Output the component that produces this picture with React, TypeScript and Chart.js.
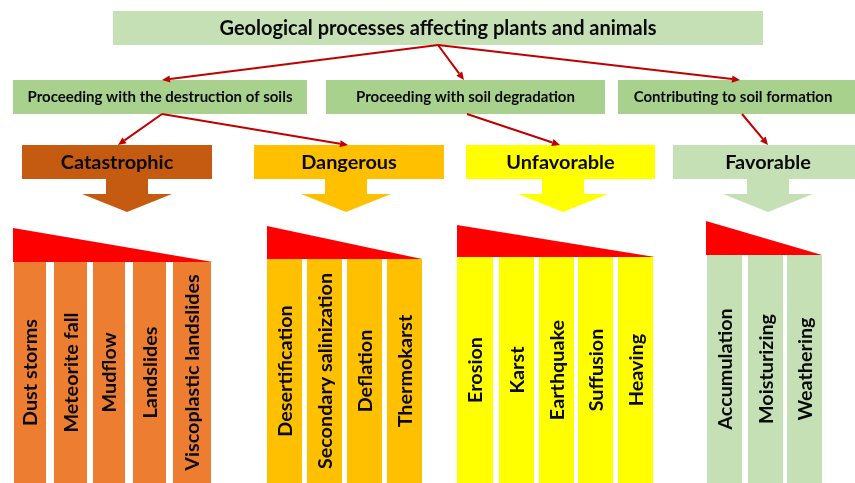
import React, { useEffect, useRef } from 'react';
import { Chart, registerables } from 'chart.js';

Chart.register(...registerables);

// ---- content ----
const TITLE = 'Geological processes affecting plants and animals';
const BRANCHES = [
  'Proceeding with the destruction of soils',
  'Proceeding with soil degradation',
  'Contributing to soil formation',
];
const CATEGORIES = ['Catastrophic', 'Dangerous', 'Unfavorable', 'Favorable'];
const CATASTROPHIC = ['Dust storms', 'Meteorite fall', 'Mudflow', 'Landslides', 'Viscoplastic landslides'];
const DANGEROUS = ['Desertification', 'Secondary salinization', 'Deflation', 'Thermokarst'];
const UNFAVORABLE = ['Erosion', 'Karst', 'Earthquake', 'Suffusion', 'Heaving'];
const FAVORABLE = ['Accumulation', 'Moisturizing', 'Weathering'];
const ITEMS = [CATASTROPHIC, DANGEROUS, UNFAVORABLE, FAVORABLE];
const BRANCH_OF_CATEGORY = [0, 0, 1, 2];

// ---- layout (scale units) ----
const W = 855;
const H = 483;
const TITLE_BOX = [113, 763, 11, 45];
const BRANCH_X = [[13, 307], [326, 605], [618, 855]];
const BRANCH_Y = [80, 114];
const TITLE_ARROW_FROM = [438, 45];
const TITLE_ARROW_TO_X = [162, 464, 740];
const BRANCH_ARROW_FROM_X = [162, 467, 742];
const CAT_X = [[22, 212], [254, 444], [466, 655], [673, 855]];
const CAT_Y = [145, 179];
const CAT_ARROW_TO_X = [118, 348, 560, 768];
const BLOCK_ARROW_X = [127, 346, 563, 768];
const BLOCK_SHAFT = [42, 179, 194];
const BLOCK_HEAD = [90, 194, 212];
const TRIANGLES = [[13, 213, 228, 262], [267, 422, 226, 259], [457, 655, 225, 257], [706, 822, 221, 255]];
const COL_LEFT = [[14, 54, 93, 133, 173], [267, 307, 347, 387], [457, 499, 539, 578, 618], [707, 748, 787]];
const COL_RIGHT = [[46, 87, 125, 166, 211], [302, 342, 382, 422], [493, 534, 574, 613, 653], [742, 783, 822]];

// ---- styles ----
const FONT = 'Lato, "Noto Sans", sans-serif';
const TEXT_COLOR = '#0a0a0a';
const TITLE_SIZE = 20;
const BRANCH_SIZE = 15;
const CAT_SIZE = 19.9;
const ITEM_SIZE = 19.8;
const TITLE_FILL = '#c5e0b4';
const BRANCH_FILL = '#a9d18e';
const CAT_FILL = ['#c55a11', '#ffc000', '#ffff00', '#c5e0b4'];
const COL_FILL = ['#ed7d31', '#ffc000', '#ffff00', '#c5e0b4'];
const RED_LINE = '#c00000';
const TRI_FILL = '#ff0000';

const diagramPlugin = {
  id: 'diagram',
  afterDraw(chart: any) {
    const ctx: CanvasRenderingContext2D = chart.ctx;
    const xs = chart.scales.x;
    const ys = chart.scales.y;
    const X = (v: number) => xs.getPixelForValue(v);
    const Y = (v: number) => ys.getPixelForValue(v);

    const rect = (x0: number, x1: number, y0: number, y1: number, fill: string) => {
      ctx.fillStyle = fill;
      ctx.fillRect(X(x0), Y(y0), X(x1) - X(x0), Y(y1) - Y(y0));
    };
    const text = (s: string, x: number, y: number, size: number) => {
      ctx.fillStyle = TEXT_COLOR;
      ctx.font = `bold ${size}px ${FONT}`;
      ctx.textAlign = 'center';
      ctx.textBaseline = 'middle';
      ctx.fillText(s, X(x), Y(y));
    };
    const arrow = (x0: number, y0: number, x1: number, y1: number) => {
      const px0 = X(x0), py0 = Y(y0), px1 = X(x1), py1 = Y(y1);
      const ang = Math.atan2(py1 - py0, px1 - px0);
      const len = 8, hw = 3.6;
      const bx = px1 - Math.cos(ang) * len;
      const by = py1 - Math.sin(ang) * len;
      ctx.strokeStyle = RED_LINE;
      ctx.lineWidth = 2;
      ctx.beginPath();
      ctx.moveTo(px0, py0);
      ctx.lineTo(bx, by);
      ctx.stroke();
      ctx.fillStyle = RED_LINE;
      ctx.beginPath();
      ctx.moveTo(px1, py1);
      ctx.lineTo(bx + Math.sin(ang) * hw, by - Math.cos(ang) * hw);
      ctx.lineTo(bx - Math.sin(ang) * hw, by + Math.cos(ang) * hw);
      ctx.closePath();
      ctx.fill();
    };

    ctx.save();
    // title
    rect(TITLE_BOX[0], TITLE_BOX[1], TITLE_BOX[2], TITLE_BOX[3], TITLE_FILL);
    text(TITLE, (TITLE_BOX[0] + TITLE_BOX[1]) / 2, (TITLE_BOX[2] + TITLE_BOX[3]) / 2 + 1, TITLE_SIZE);

    // branches
    BRANCHES.forEach((b, i) => {
      const [x0, x1] = BRANCH_X[i];
      rect(x0, x1, BRANCH_Y[0], BRANCH_Y[1], BRANCH_FILL);
      const cx = i === 2 ? (x0 + 848) / 2 : (x0 + x1) / 2;
      text(b, cx, (BRANCH_Y[0] + BRANCH_Y[1]) / 2, BRANCH_SIZE);
      arrow(TITLE_ARROW_FROM[0], TITLE_ARROW_FROM[1], TITLE_ARROW_TO_X[i], BRANCH_Y[0]);
    });

    // categories
    CATEGORIES.forEach((c, i) => {
      const [x0, x1] = CAT_X[i];
      rect(x0, x1, CAT_Y[0], CAT_Y[1], CAT_FILL[i]);
      const cx = i === 3 ? (x0 + 863) / 2 : (x0 + x1) / 2;
      text(c, cx, (CAT_Y[0] + CAT_Y[1]) / 2 + 1, CAT_SIZE);
      arrow(BRANCH_ARROW_FROM_X[BRANCH_OF_CATEGORY[i]], BRANCH_Y[1], CAT_ARROW_TO_X[i], CAT_Y[0]);

      // block arrow
      const ax = BLOCK_ARROW_X[i];
      ctx.fillStyle = CAT_FILL[i];
      ctx.beginPath();
      ctx.moveTo(X(ax - BLOCK_SHAFT[0] / 2), Y(BLOCK_SHAFT[1]));
      ctx.lineTo(X(ax + BLOCK_SHAFT[0] / 2), Y(BLOCK_SHAFT[1]));
      ctx.lineTo(X(ax + BLOCK_SHAFT[0] / 2), Y(BLOCK_SHAFT[2]));
      ctx.lineTo(X(ax + BLOCK_HEAD[0] / 2), Y(BLOCK_HEAD[1]));
      ctx.lineTo(X(ax), Y(BLOCK_HEAD[2]));
      ctx.lineTo(X(ax - BLOCK_HEAD[0] / 2), Y(BLOCK_HEAD[1]));
      ctx.lineTo(X(ax - BLOCK_SHAFT[0] / 2), Y(BLOCK_SHAFT[2]));
      ctx.closePath();
      ctx.fill();

      // severity wedge
      const [tx0, tx1, ty0, ty1] = TRIANGLES[i];
      ctx.fillStyle = TRI_FILL;
      ctx.beginPath();
      ctx.moveTo(X(tx0), Y(ty0));
      ctx.lineTo(X(tx1), Y(ty1));
      ctx.lineTo(X(tx0), Y(ty1));
      ctx.closePath();
      ctx.fill();

      // item columns
      ITEMS[i].forEach((name, j) => {
        const l = COL_LEFT[i][j];
        const r = COL_RIGHT[i][j];
        rect(l, r, ty1, H, COL_FILL[i]);
        ctx.save();
        ctx.translate(X((l + r) / 2), Y((ty1 + H) / 2));
        ctx.rotate(-Math.PI / 2);
        ctx.fillStyle = TEXT_COLOR;
        ctx.font = `bold ${ITEM_SIZE}px ${FONT}`;
        ctx.textAlign = 'center';
        ctx.textBaseline = 'middle';
        ctx.fillText(name, 0, 1);
        ctx.restore();
      });
    });
    ctx.restore();
  },
};

export default function App() {
  const ref = useRef<HTMLCanvasElement | null>(null);
  useEffect(() => {
    if (!ref.current) return;
    const chart = new Chart(ref.current, {
      type: 'scatter',
      data: { datasets: [] },
      options: {
        animation: false,
        responsive: false,
        events: [],
        layout: { padding: 0 },
        plugins: { legend: { display: false }, tooltip: { enabled: false } },
        scales: {
          x: { type: 'linear', min: 0, max: W, display: false },
          y: { type: 'linear', min: 0, max: H, reverse: true, display: false },
        },
      },
      plugins: [diagramPlugin],
    } as any);
    return () => chart.destroy();
  }, []);
  return (
    <div style={{ position: 'fixed', left: 0, top: 0, width: W, height: H, background: '#fff' }}>
      <canvas ref={ref} width={W} height={H} style={{ display: 'block', width: W, height: H }} />
    </div>
  );
}
